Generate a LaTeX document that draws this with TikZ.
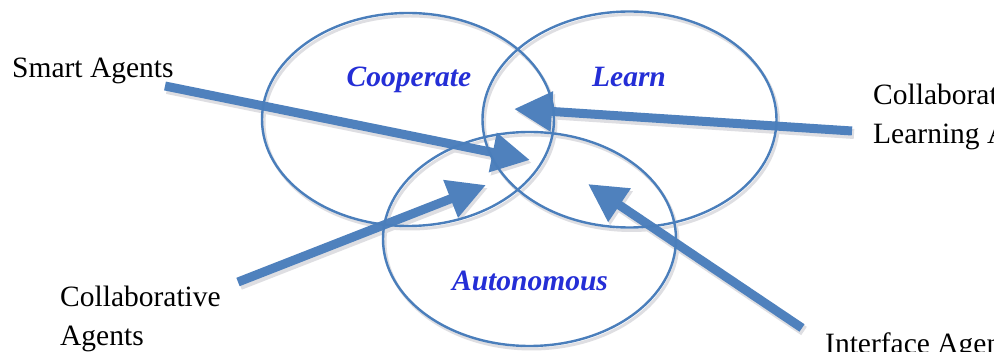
\documentclass[tikz,border=0pt]{standalone}
\usepackage{fontspec}
\setmainfont{Liberation Serif}
\usetikzlibrary{arrows.meta,shapes.geometric}
\definecolor{vennblue}{RGB}{74,126,187}
\definecolor{arrowblue}{RGB}{79,129,189}
\definecolor{labelblue}{RGB}{36,46,214}
\definecolor{shadowgray}{RGB}{222,222,226}
\begin{document}
\begin{tikzpicture}[x=1pt,y=-1pt,
  venn/.style={ellipse,draw=vennblue,line width=2.4pt,inner sep=0pt,outer sep=0pt},
  vennshadow/.style={ellipse,draw=shadowgray,line width=3pt,inner sep=0pt,outer sep=0pt},
  conn/.style={draw=arrowblue,line width=9pt,-{Triangle[length=38pt,width=38pt]}},
  connshadow/.style={draw=shadowgray,line width=10pt,-{Triangle[length=38pt,width=38pt]}},
  blabel/.style={font=\fontsize{29.5}{35}\selectfont\bfseries\itshape,text=labelblue,anchor=base,inner sep=0pt},
  klabel/.style={font=\fontsize{29.5}{35}\selectfont,text=black,anchor=base west,inner sep=0pt}]
\useasboundingbox (0,0) rectangle (994,352);
\fill[white] (0,0) rectangle (994,352);

% connector end points
\coordinate (sa) at (165,86);
\coordinate (sat) at (530,160);
\coordinate (cl) at (852,131);
\coordinate (clt) at (514,109);
\coordinate (ca) at (238,282);
\coordinate (cat) at (486,185);
\coordinate (ia) at (802,328);
\coordinate (iat) at (588,184);

% shadows
\node[vennshadow,minimum width=292pt,minimum height=213pt] at (410,122.5) {};
\node[vennshadow,minimum width=294pt,minimum height=216pt] at (631.5,122.5) {};
\node[vennshadow,minimum width=293pt,minimum height=214pt] at (531.5,242) {};
\draw[connshadow] ([shift={(2,3)}]sa) -- ([shift={(2,3)}]sat);
\draw[connshadow] ([shift={(2,3)}]cl) -- ([shift={(2,3)}]clt);
\draw[connshadow] ([shift={(2,3)}]ca) -- ([shift={(2,3)}]cat);
\draw[connshadow] ([shift={(2,3)}]ia) -- ([shift={(2,3)}]iat);

% arrows
\draw[conn] (sa) -- (sat);
\draw[conn] (cl) -- (clt);
\draw[conn] (ca) -- (cat);
\draw[conn] (ia) -- (iat);

% ellipses
\node[venn,minimum width=292pt,minimum height=213pt] (coop) at (408,119.5) {};
\node[venn,minimum width=294pt,minimum height=216pt] (learn) at (629.5,119.5) {};
\node[venn,minimum width=293pt,minimum height=214pt] (auto) at (529.5,239) {};

% ellipse labels
\node[blabel] (tcoop) at (409,87) {Cooperate};
\node[blabel] (tlearn) at (629,87) {Learn};
\node[blabel] (tauto) at (530,291) {Autonomous};

% outer labels
\node[klabel] (smart) at (12,78) {Smart Agents};
\node[klabel] (cl1) at (873,105) {Collaborative};
\node[klabel] (cl2) at (873,144) {Learning Agents};
\node[klabel] (ca1) at (60,307) {Collaborative};
\node[klabel] (ca2) at (60,346) {Agents};
\node[klabel] (ia1) at (825,354) {Interface Agents};
\end{tikzpicture}
\end{document}
